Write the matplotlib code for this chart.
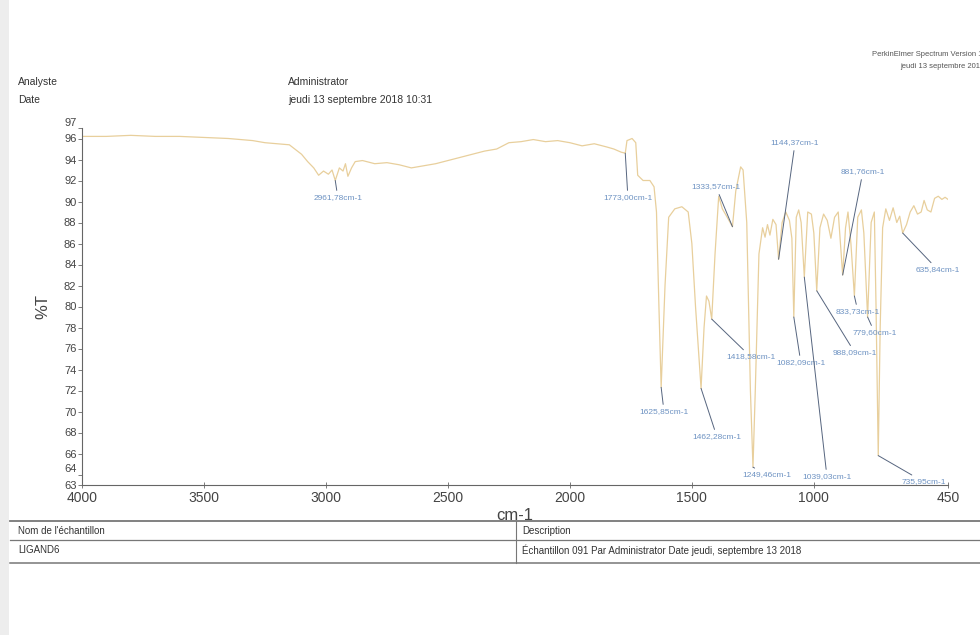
import matplotlib
matplotlib.use("Agg")
import matplotlib.pyplot as plt
from matplotlib.lines import Line2D
from matplotlib.patches import Rectangle

plt.rcParams['font.family'] = ['Liberation Sans', 'DejaVu Sans']

# ---- spectrum: background trace points (cm-1, %T) ----
base_wn = [4000, 3900, 3800, 3700, 3600, 3500, 3400, 3300, 3250, 3200, 3150,
           3100, 3075, 3050, 3030, 3010, 2990, 2975, 2945, 2930, 2920, 2910,
           2895, 2880, 2850, 2800, 2750, 2700, 2650, 2600, 2550, 2500, 2450,
           2400, 2350, 2300, 2250, 2200, 2150, 2100, 2050, 2000, 1950, 1900,
           1850, 1820, 1800, 1790, 1766, 1745, 1730, 1722, 1700, 1672, 1655,
           1645, 1635, 1610, 1595, 1570, 1541, 1515, 1500, 1485, 1450, 1440,
           1430, 1405, 1390, 1375, 1355, 1320, 1300, 1290, 1275, 1260, 1240,
           1225, 1210, 1200, 1190, 1180, 1168, 1155, 1130, 1115, 1100, 1090,
           1072, 1062, 1052, 1025, 1010, 1000, 975, 960, 945, 930, 915, 900,
           870, 860, 848, 820, 805, 795, 765, 752, 745, 728, 718, 705, 690,
           675, 660, 648, 620, 605, 590, 575, 560, 548, 535, 520, 505, 490,
           475, 462, 450]
base_t = [96.2, 96.2, 96.3, 96.2, 96.2, 96.1, 96.0, 95.8, 95.6, 95.5, 95.4,
          94.5, 93.8, 93.2, 92.5, 92.9, 92.6, 93.0, 93.2, 92.9, 93.6, 92.4,
          93.2, 93.8, 93.9, 93.6, 93.7, 93.5, 93.2, 93.4, 93.6, 93.9, 94.2,
          94.5, 94.8, 95.0, 95.6, 95.7, 95.9, 95.7, 95.8, 95.6, 95.3, 95.5,
          95.2, 95.0, 94.8, 94.7, 95.8, 96.0, 95.6, 92.5, 92.0, 92.0, 91.4,
          89.0, 80.0, 82.0, 88.5, 89.3, 89.5, 89.0, 86.0, 80.0, 78.0, 81.0,
          80.5, 85.0, 90.5, 89.3, 88.5, 91.0, 93.3, 93.0, 88.0, 72.0, 72.0,
          85.0, 87.5, 86.6, 87.8, 86.8, 88.3, 87.8, 88.0, 89.0, 88.2, 86.5,
          88.5, 89.2, 88.0, 89.0, 88.8, 87.0, 87.5, 88.8, 88.2, 86.5, 88.5,
          89.0, 87.5, 89.0, 86.0, 88.5, 89.2, 87.0, 88.0, 89.0, 80.0, 78.0,
          87.5, 89.3, 88.2, 89.4, 88.0, 88.6, 87.8, 89.0, 89.6, 88.8, 89.0,
          90.1, 89.2, 89.0, 90.3, 90.5, 90.2, 90.4, 90.2]

# ---- picked peaks (cm-1, %T) and their label positions (cm-1, %T) ----
peak_wn = [2961.78, 1773.00, 1625.85, 1462.28, 1418.58, 1333.57, 1249.46,
           1144.37, 1082.09, 1039.03, 988.09, 881.76, 833.73, 779.60, 735.95,
           635.84]
peak_t = [92.0, 94.6, 72.3, 72.2, 78.8, 87.6, 64.7, 84.5, 79.0, 82.8, 81.5,
          83.0, 81.0, 79.0, 65.8, 87.0]
label_wn = [2951, 1762, 1614, 1397, 1258, 1401, 1192, 1077, 1053, 946, 831,
            799, 819, 750, 549, 491]
label_t = [90.33, 90.33, 69.95, 67.57, 75.19, 91.38, 63.95, 95.57, 74.62,
           63.76, 75.57, 92.81, 79.48, 77.48, 63.29, 83.48]

y_ticks = [63, 64, 66, 68, 70, 72, 74, 76, 78, 80, 82, 84, 86, 88, 90, 92,
           94, 96, 97]
x_ticks = [4000, 3500, 3000, 2500, 2000, 1500, 1000, 450]

# merge trace and peaks into one descending series
pts = sorted(zip(base_wn + peak_wn, base_t + peak_t), key=lambda p: -p[0])
wn = [p[0] for p in pts]
tr = [p[1] for p in pts]

W, H = 980, 635
fig = plt.figure(figsize=(W / 100, H / 100), dpi=100)


def fx(x):
    return x / W


def fy(y):
    return 1 - y / H


# light strip on the left edge of the page
fig.add_artist(Rectangle((0, 0), fx(9), 1, transform=fig.transFigure,
                         color='#ededed', lw=0))

ax = fig.add_axes([fx(82), fy(485), fx(948) - fx(82), fy(128) - fy(485)])
ax.plot(wn, tr, color='#e8cf9c', lw=0.9)
ax.set_xlim(4000, 450)
ax.set_ylim(63, 97)
ax.set_xticks(x_ticks)
ax.set_xticklabels([str(v) for v in x_ticks])
ax.set_yticks(y_ticks)
ax.set_yticklabels([str(v) for v in y_ticks])
for s in ('top', 'right'):
    ax.spines[s].set_visible(False)
for s in ('left', 'bottom'):
    ax.spines[s].set_color('#666666')
    ax.spines[s].set_linewidth(0.8)
ax.tick_params(axis='y', direction='out', length=3, width=0.6,
               colors='#666666', labelcolor='#444444', labelsize=8, pad=1)
ax.tick_params(axis='x', direction='inout', length=5, width=0.6,
               colors='#666666', labelcolor='#444444', labelsize=10, pad=2)
# the two lowest tick labels sit close together: lift "64" onto its tick
ax.get_yticklabels()[1].set_verticalalignment('bottom')
ax.get_yticklabels()[-1].set_verticalalignment('bottom')
ax.set_xlabel('cm-1', fontsize=12, color='#444444', labelpad=2)
ax.set_ylabel('%T', fontsize=12, color='#444444', labelpad=10)

for w, t, lw_, lt in zip(peak_wn, peak_t, label_wn, label_t):
    txt = f"{w:.2f}".replace('.', ',') + 'cm-1'
    ax.annotate(txt, xy=(w, t), xytext=(lw_, lt), ha='center', va='center',
                fontsize=6, color='#6d92c2', annotation_clip=False,
                arrowprops=dict(arrowstyle='-', color='#56657f', lw=0.7,
                                shrinkA=1, shrinkB=0))

# page header
hdr = dict(fontsize=7.5, color='#333333', va='center')
fig.text(fx(18), fy(82), 'Analyste', **hdr)
fig.text(fx(18), fy(100), 'Date', **hdr)
fig.text(fx(288), fy(82), 'Administrator', **hdr)
fig.text(fx(288), fy(100), 'jeudi 13 septembre 2018 10:31', **hdr)
fig.text(fx(872), fy(55), 'PerkinElmer Spectrum Version 10.5.4', fontsize=5.5,
         color='#555555', va='center')
fig.text(fx(900), fy(66), 'jeudi 13 septembre 2018 10:31', fontsize=5.5,
         color='#555555', va='center')

# sample table
for y, lw_ in ((521, 1.3), (540, 0.9), (563, 1.1)):
    fig.add_artist(Line2D([fx(10), 1], [fy(y), fy(y)], color='#777777',
                          lw=lw_, transform=fig.transFigure))
fig.add_artist(Line2D([fx(516), fx(516)], [fy(521), fy(563)],
                      color='#777777', lw=0.8, transform=fig.transFigure))
cell = dict(fontsize=7, color='#333333', va='center')
fig.text(fx(18), fy(531), "Nom de l'échantillon", **cell)
fig.text(fx(522), fy(531), 'Description', **cell)
fig.text(fx(18), fy(550), 'LIGAND6', **cell)
fig.text(fx(522), fy(550),
         'Échantillon 091 Par Administrator Date jeudi, septembre 13 2018',
         **cell)

fig.savefig('out.png', dpi=100, facecolor='white')
